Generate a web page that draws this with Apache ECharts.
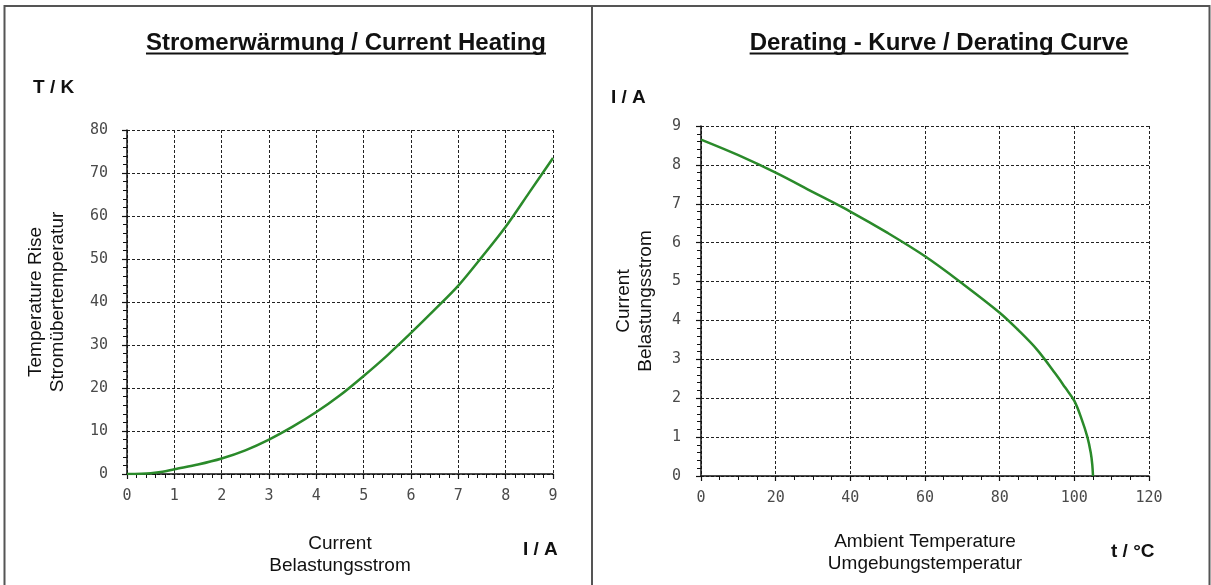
<!DOCTYPE html>
<html>
<head>
<meta charset="utf-8">
<script src="https://cdn.jsdelivr.net/npm/echarts@6/dist/echarts.min.js"></script>
<style>html,body{margin:0;padding:0;background:#fff;}#c{width:1211px;height:585px;}</style>
</head>
<body>
<div id="c"></div>
<script>
// Left chart: current heating
const heatCurrent = [0, 0.5, 0.75, 1, 1.5, 2, 2.5, 3, 3.5, 4, 4.5, 5, 5.5, 6, 6.5, 7, 7.5, 8, 8.5, 9];
const heatRise    = [0, 0.2, 0.5, 1.1, 2.2, 3.6, 5.5, 8, 11, 14.4, 18.3, 22.8, 27.6, 32.8, 38.2, 43.8, 50.5, 57.5, 65.5, 73.5];
// Right chart: derating curve
const ambTemp    = [0, 10, 20, 30, 40, 50, 60, 70, 80, 85, 90, 95, 97.5, 100, 102, 103.5, 104.4, 104.8, 105];
const derCurrent = [8.65, 8.25, 7.8, 7.3, 6.8, 6.25, 5.65, 4.95, 4.2, 3.75, 3.25, 2.62, 2.28, 1.93, 1.45, 1.0, 0.6, 0.3, 0];

const titles = ['Stromerwärmung / Current Heating', 'Derating - Kurve / Derating Curve'];
const xNames = ['Current\nBelastungsstrom', 'Ambient Temperature\nUmgebungstemperatur'];
const yNames = ['Temperature Rise\nStromübertemperatur', 'Current\nBelastungsstrom'];
const units = ['T / K', 'I / A', 'I / A', 't / °C'];

const green = '#2a8a2a';
const titleFont = 'bold 24px "Liberation Sans", Arial, sans-serif';
function textWidth(t, font) {
  const ctx = document.createElement('canvas').getContext('2d');
  ctx.font = font; return ctx.measureText(t).width;
}

function axisCommon(min, max, interval, minorSplit) {
  return {
    type: 'value', min: min, max: max, interval: interval,
    axisLine: { show: true, onZero: false, lineStyle: { color: '#111', width: 1.5 } },
    axisTick: { show: true, length: 5, lineStyle: { color: '#111', width: 1.2 } },
    minorTick: { show: true, splitNumber: minorSplit, length: 4, lineStyle: { color: '#111', width: 1 } },
    splitLine: { show: true, lineStyle: { color: '#222', width: 1, type: [3, 2] } },
    axisLabel: { color: '#4a4a4a', fontFamily: '"DejaVu Sans Mono", monospace', fontSize: 15 },
    nameTextStyle: { color: '#111', fontFamily: '"Liberation Sans", Arial, sans-serif', fontSize: 19, lineHeight: 22 }
  };
}

const xL = axisCommon(0, 9, 1, 5);
Object.assign(xL, { gridIndex: 0, name: xNames[0], nameLocation: 'middle', nameGap: 59 });
xL.axisLabel = Object.assign({}, xL.axisLabel, { margin: 15 });
const yL = axisCommon(0, 80, 10, 5);
Object.assign(yL, { gridIndex: 0, name: yNames[0], nameLocation: 'middle', nameRotate: 90, nameGap: 58 });
yL.axisLabel = Object.assign({}, yL.axisLabel, { margin: 19 });
const xR = axisCommon(0, 120, 20, 4);
Object.assign(xR, { gridIndex: 1, name: xNames[1], nameLocation: 'middle', nameGap: 55 });
xR.axisLabel = Object.assign({}, xR.axisLabel, { margin: 15 });
const yR = axisCommon(0, 9, 1, 5);
Object.assign(yR, { gridIndex: 1, name: yNames[1], nameLocation: 'middle', nameRotate: 90, nameGap: 44 });
yR.axisLabel = Object.assign({}, yR.axisLabel, { margin: 20 });

const unitStyle = { fill: '#111', font: 'bold 19px "Liberation Sans", Arial, sans-serif', textVerticalAlign: 'middle' };
const tCenters = [346, 939];
const graphics = [
  { type: 'rect', shape: { x: 4.5, y: 6, width: 1205, height: 620 }, style: { fill: 'none', stroke: '#555', lineWidth: 2 }, silent: true },
  { type: 'line', shape: { x1: 592, y1: 6, x2: 592, y2: 600 }, style: { stroke: '#555', lineWidth: 2 }, silent: true }
];
titles.forEach(function (t, i) {
  const w = textWidth(t, titleFont);
  graphics.push({ type: 'text', x: tCenters[i], y: 43, style: { text: t, font: titleFont, fill: '#111', textAlign: 'center', textVerticalAlign: 'middle' } });
  graphics.push({ type: 'rect', shape: { x: tCenters[i] - w / 2, y: 52.5, width: w, height: 2 }, style: { fill: '#111' } });
});
const unitPos = [[33, 88], [611, 98], [523, 550], [1111, 552]];
units.forEach(function (u, i) {
  graphics.push({ type: 'text', x: unitPos[i][0], y: unitPos[i][1], style: Object.assign({ text: u }, unitStyle) });
});

const chart = echarts.init(document.getElementById('c'), null, { renderer: 'canvas' });
chart.setOption({
  backgroundColor: '#fff',
  animation: false,
  grid: [
    { left: 127, top: 130, width: 426, height: 344 },
    { left: 701, top: 126, width: 448, height: 350 }
  ],
  xAxis: [xL, xR],
  yAxis: [yL, yR],
  series: [
    { type: 'line', xAxisIndex: 0, yAxisIndex: 0, data: heatCurrent.map(function (x, i) { return [x, heatRise[i]]; }),
      showSymbol: false, symbol: 'none', smooth: 0.3, lineStyle: { color: green, width: 2.5 } },
    { type: 'line', xAxisIndex: 1, yAxisIndex: 1, data: ambTemp.map(function (x, i) { return [x, derCurrent[i]]; }),
      showSymbol: false, symbol: 'none', smooth: 0.35, lineStyle: { color: green, width: 2.5 } }
  ],
  graphic: graphics
});
</script>
</body>
</html>
